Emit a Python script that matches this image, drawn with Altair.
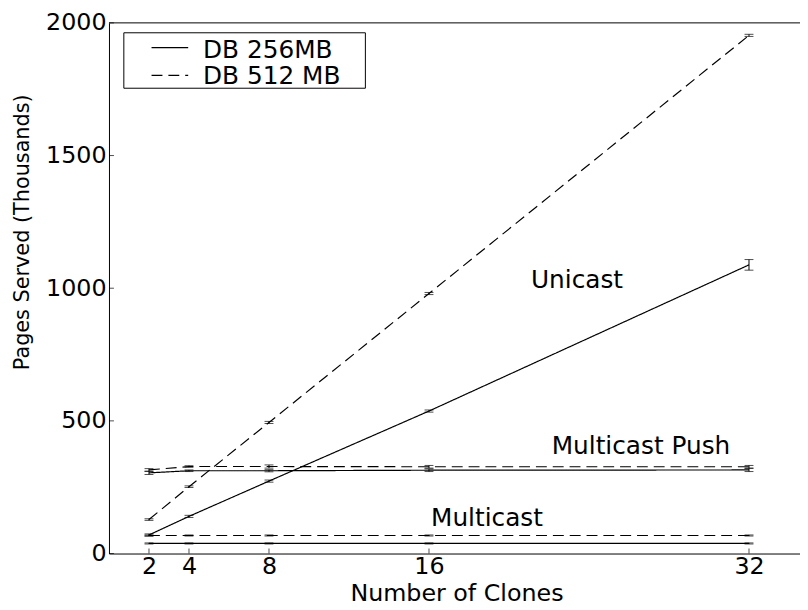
import altair as alt
import pandas as pd

# ---- data ----
clones = [2, 4, 8, 16, 32]

uni_256 = [70, 140, 273, 537, 1088]
uni_256_err = [4, 4, 4, 4, 20]
uni_512 = [128, 252, 494, 980, 1953]
uni_512_err = [3, 3, 4, 4, 4]

push_256 = [304, 312, 312, 314, 315]
push_256_err = [6, 3, 4, 5, 6]
push_512 = [315, 328, 328, 327, 327]
push_512_err = [5, 3, 6, 5, 5]

multi_256 = [38, 38, 38, 38, 38]
multi_256_err = [2, 2, 2, 2, 2]
multi_512 = [68, 68, 68, 68, 68]
multi_512_err = [2, 2, 2, 2, 2]

db_names = ["DB 256MB", "DB 512 MB"]
x_ticks = [2, 4, 8, 16, 32]
y_ticks = [0, 500, 1000, 1500, 2000]

annot_labels = ["Unicast", "Multicast Push", "Multicast"]
annot_x = [23.4, 26.6, 18.9]
annot_y = [1000, 377, 104]

# ---- build tables ----
series = [
    ("Unicast", db_names[0], uni_256, uni_256_err),
    ("Unicast", db_names[1], uni_512, uni_512_err),
    ("Multicast Push", db_names[0], push_256, push_256_err),
    ("Multicast Push", db_names[1], push_512, push_512_err),
    ("Multicast", db_names[0], multi_256, multi_256_err),
    ("Multicast", db_names[1], multi_512, multi_512_err),
]
rows = []
for proto, db, vals, errs in series:
    for c, v, e in zip(clones, vals, errs):
        rows.append({"clones": c, "pages": v, "lo": v - e, "hi": v + e,
                     "db": db, "series": proto + " " + db})
df = pd.DataFrame(rows)
annot = pd.DataFrame({"label": annot_labels, "x": annot_x, "y": annot_y})
xt = pd.DataFrame({"t": x_ticks})
yt = pd.DataFrame({"t": y_ticks})
one = pd.DataFrame({"a": [0]})

W, H = 698, 536
FONT = "DejaVu Sans"
DASH = [11, 6]

xs = alt.Scale(domain=[0, 34.55], nice=False, zero=False)
ys = alt.Scale(domain=[0, 2000], nice=False)

X = alt.X("clones:Q", scale=xs,
          axis=alt.Axis(values=x_ticks, format="d", title="Number of Clones",
                        titleX=351, titleY=47, titleBaseline="alphabetic",
                        titleAlign="center", titleFontSize=24, labelPadding=1))
Y = alt.Y("pages:Q", scale=ys,
          axis=alt.Axis(values=y_ticks, format="d", title="Pages Served (Thousands)",
                        titleX=-81, titleY=211, titleAngle=-90,
                        titleBaseline="alphabetic", titleAlign="center",
                        titleFontSize=21, labelPadding=3))

dash = alt.StrokeDash("db:N", scale=alt.Scale(domain=db_names, range=[[1, 0], DASH]),
                      legend=None)

base = alt.Chart(df)
lines = base.mark_line(color="black", strokeWidth=1.2).encode(
    x=X, y=Y, strokeDash=dash, detail="series:N")
err = base.mark_rule(color="black", strokeWidth=1).encode(
    x=alt.X("clones:Q", scale=xs), y=alt.Y("lo:Q", scale=ys), y2="hi:Q")
cap_lo = base.mark_tick(color="black", orient="horizontal", size=9, thickness=1).encode(
    x=alt.X("clones:Q", scale=xs), y=alt.Y("lo:Q", scale=ys))
cap_hi = base.mark_tick(color="black", orient="horizontal", size=9, thickness=1).encode(
    x=alt.X("clones:Q", scale=xs), y=alt.Y("hi:Q", scale=ys))

labels = alt.Chart(annot).mark_text(font=FONT, fontSize=25, color="black",
                                    align="center", baseline="alphabetic").encode(
    x=alt.X("x:Q", scale=xs), y=alt.Y("y:Q", scale=ys), text="label:N")

xtick = alt.Chart(xt).mark_tick(color="black", orient="vertical", size=5, thickness=1).encode(
    x=alt.X("t:Q", scale=xs), y=alt.value(H - 2.5))
ytick = alt.Chart(yt).mark_tick(color="black", orient="horizontal", size=5, thickness=1).encode(
    y=alt.Y("t:Q", scale=ys), x=alt.value(2.5))

top_spine = alt.Chart(one).mark_rule(color="black", strokeWidth=1).encode(
    x=alt.value(0), x2=alt.value(W), y=alt.value(0))

# legend box drawn as decoration
leg_box = alt.Chart(one).mark_rect(fill="white", stroke="black", strokeWidth=1).encode(
    x=alt.value(15), x2=alt.value(259), y=alt.value(10), y2=alt.value(66))
leg_l1 = alt.Chart(one).mark_rule(color="black", strokeWidth=1.2).encode(
    x=alt.value(43), x2=alt.value(80), y=alt.value(25))
leg_l2 = alt.Chart(one).mark_rule(color="black", strokeWidth=1.2, strokeDash=DASH).encode(
    x=alt.value(43), x2=alt.value(80), y=alt.value(53))
leg_t1 = alt.Chart(one).mark_text(text=db_names[0], font=FONT, fontSize=25, color="black",
                                  align="left", baseline="alphabetic").encode(
    x=alt.value(95), y=alt.value(35))
leg_t2 = alt.Chart(one).mark_text(text=db_names[1], font=FONT, fontSize=25, color="black",
                                  align="left", baseline="alphabetic").encode(
    x=alt.value(95), y=alt.value(62))

chart = alt.layer(
    lines, err, cap_lo, cap_hi, labels, xtick, ytick, top_spine,
    leg_box, leg_l1, leg_l2, leg_t1, leg_t2
).properties(
    width=W, height=H,
    autosize=alt.AutoSizeParams(type="none"),
    padding={"left": 102, "top": 12, "right": 0, "bottom": 54},
).configure_view(stroke=None).configure_axis(
    labelFont=FONT, titleFont=FONT, labelFontSize=24, titleFontSize=24,
    labelColor="black", titleColor="black", titleFontWeight="normal",
    domainColor="black", domainWidth=1, ticks=False, tickSize=0,
    grid=False
)

chart.save("out.html", embed_options={"renderer": "svg", "actions": False})
